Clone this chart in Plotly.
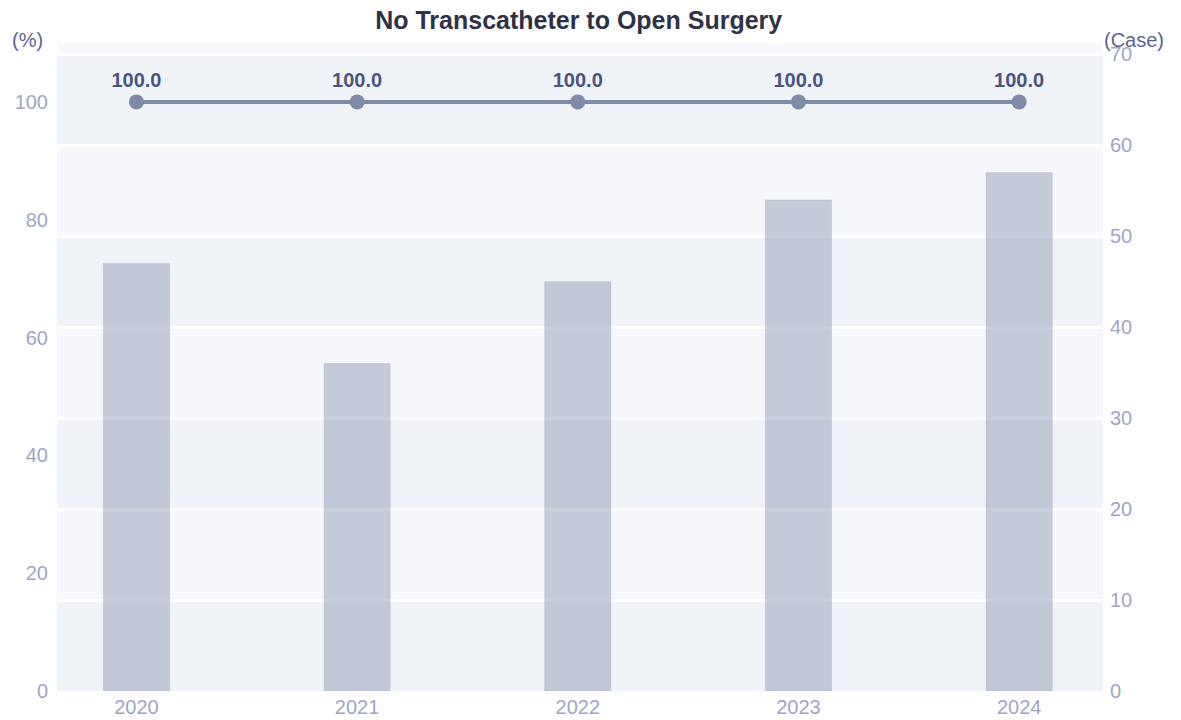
import plotly.graph_objects as go

years = ["2020", "2021", "2022", "2023", "2024"]
cases = [47, 36, 45, 54, 57]
rates = [100.0, 100.0, 100.0, 100.0, 100.0]
rate_labels = [f"{v:.1f}" for v in rates]
case_ticks = [0, 10, 20, 30, 40, 50, 60, 70]
pct_ticks = [0, 20, 40, 60, 80, 100]

FONT = "Liberation Sans, Arial, Helvetica, sans-serif"
case_max = max(cases) * 1.25

fig = go.Figure()
fig.add_trace(go.Bar(
    x=years, y=cases, yaxis="y2", width=0.3,
    marker=dict(color="rgba(150,157,183,0.5)",
                line=dict(color="rgba(150,157,183,0.25)", width=1)),
    hoverinfo="skip", showlegend=False,
))
fig.add_trace(go.Scatter(
    x=years, y=rates, yaxis="y", mode="lines+markers+text",
    line=dict(color="#7f8aa8", width=4),
    marker=dict(color="#7f8aa8", size=15),
    text=rate_labels, textposition="top center",
    textfont=dict(family=FONT, size=20, color="#4a557f", weight="bold"),
    showlegend=False, cliponaxis=False,
))

# alternating background bands between case-axis gridlines
shapes = []
for i in range(0, len(case_ticks), 2):
    lo = case_ticks[i]
    hi = case_ticks[i + 1] if i + 1 < len(case_ticks) else case_max
    shapes.append(dict(type="rect", xref="paper", yref="y2", x0=0, x1=1,
                       y0=lo, y1=hi, fillcolor="#f0f3f8", line=dict(width=0),
                       layer="below"))

fig.update_layout(
    width=1181, height=720,
    margin=dict(l=57, r=78, t=43, b=29),
    paper_bgcolor="white", plot_bgcolor="#f7f8fc",
    title=dict(text="<b>No Transcatheter to Open Surgery</b>", x=0.49, xanchor="center",
               y=0.972, yanchor="middle", automargin=False,
               font=dict(family=FONT, size=25, color="#2f3247")),
    font=dict(family=FONT),
    shapes=shapes,
    xaxis=dict(type="category", range=[-0.36, 4.38], showgrid=False, zeroline=False,
               tickfont=dict(size=20, color="#a0a6c2"), ticks="", showline=False,
               automargin=False, ticklabelstandoff=2),
    yaxis=dict(range=[0, 110], tickvals=pct_ticks, showgrid=False, zeroline=False,
               tickfont=dict(size=20, color="#a0a6c2"), ticks="", ticklabelstandoff=8,
               automargin=False),
    yaxis2=dict(range=[0, case_max], tickvals=case_ticks, overlaying="y", side="right",
                showgrid=True, gridcolor="white", gridwidth=3, zeroline=False,
                tickfont=dict(size=20, color="#a0a6c2"), ticks="", ticklabelstandoff=6,
                automargin=False),
    annotations=[
        dict(text="(%)", xref="paper", yref="paper", x=-0.011, y=0.985, xanchor="right",
             yanchor="bottom", showarrow=False, font=dict(size=20, color="#5a6491")),
        dict(text="(Case)", xref="paper", yref="paper", x=0.999, y=0.985, xanchor="left",
             yanchor="bottom", showarrow=False, font=dict(size=20, color="#5a6491")),
    ],
)

fig.write_html("out.html", config={"displayModeBar": False},
               post_script="document.body.style.margin='0';document.body.style.overflow='hidden';")
